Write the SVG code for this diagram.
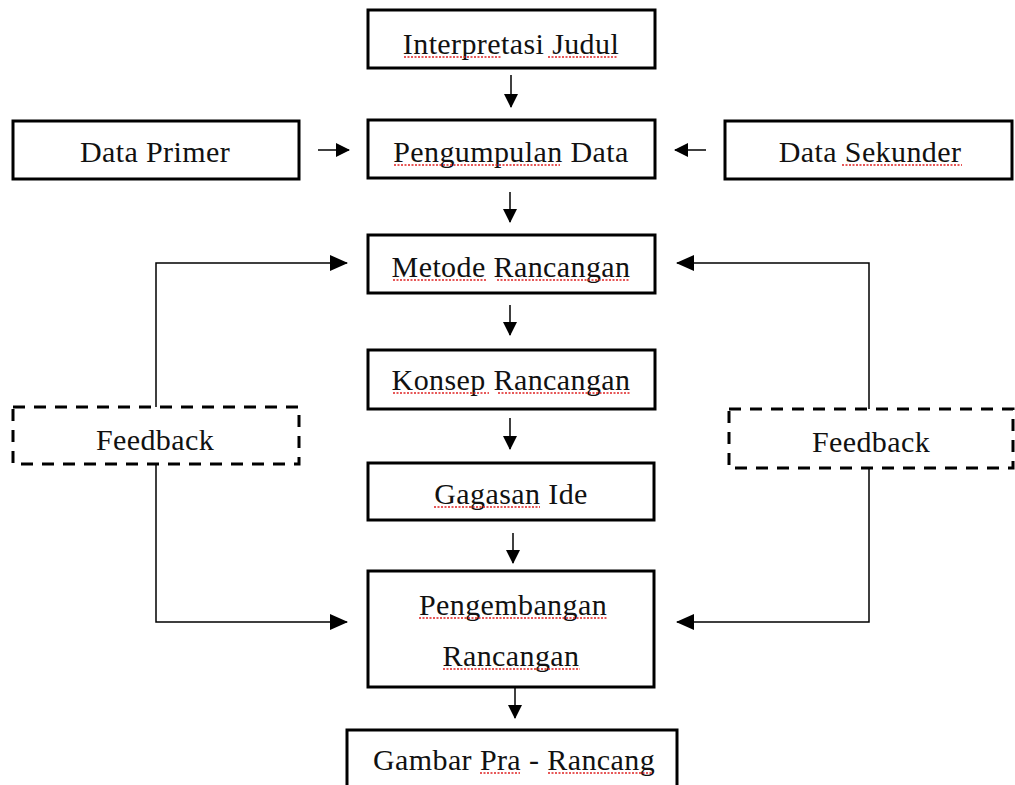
<svg xmlns="http://www.w3.org/2000/svg" width="1015" height="785" viewBox="0 0 1015 785">
<defs>
<style>
.box{fill:#fff;stroke:#000;stroke-width:3}
.dbox{fill:#fff;stroke:#000;stroke-width:3;stroke-dasharray:12 9}
.lbl{font-family:"Liberation Serif","Times New Roman",serif;font-size:30px;letter-spacing:0.4px;fill:#111;text-anchor:middle}
.con{fill:none;stroke:#000;stroke-width:1.5}
.sq{fill:none;stroke:#e02020;stroke-width:1.3;stroke-dasharray:2 1.5}
</style>
<marker id="ah" markerUnits="userSpaceOnUse" markerWidth="18" markerHeight="18" viewBox="0 0 18 18" refX="17" refY="9" orient="auto">
<path d="M0,1 L18,9 L0,17 Z" fill="#000"/>
</marker>
<marker id="as" markerUnits="userSpaceOnUse" markerWidth="14" markerHeight="16" viewBox="0 0 14 16" refX="13" refY="8" orient="auto">
<path d="M0,1 L14,8 L0,15 Z" fill="#000"/>
</marker>
</defs>
<rect width="1015" height="785" fill="#fff"/>

<g id="connectors">
<line class="con" x1="511" y1="75" x2="511" y2="107" marker-end="url(#as)"/>
<line class="con" x1="318" y1="150" x2="349" y2="150" marker-end="url(#as)"/>
<line class="con" x1="706" y1="150" x2="675" y2="150" marker-end="url(#as)"/>
<line class="con" x1="510" y1="192" x2="510" y2="222" marker-end="url(#as)"/>
<line class="con" x1="510" y1="305" x2="510" y2="335" marker-end="url(#as)"/>
<line class="con" x1="510" y1="418" x2="510" y2="449" marker-end="url(#as)"/>
<line class="con" x1="513" y1="533" x2="513" y2="563" marker-end="url(#as)"/>
<line class="con" x1="515" y1="688" x2="515" y2="718" marker-end="url(#as)"/>
<polyline class="con" points="156,407 156,263 347,263" marker-end="url(#ah)"/>
<polyline class="con" points="869,409 869,263 677,263" marker-end="url(#ah)"/>
<polyline class="con" points="156,465 156,622 347,622" marker-end="url(#ah)"/>
<polyline class="con" points="869,468 869,622 677,622" marker-end="url(#ah)"/>
</g>

<g id="interpretasi-judul">
<rect class="box" x="368" y="10" width="287" height="58"/>
<text class="lbl" x="511" y="54">Interpretasi Judul</text>
<path class="sq" d="M404,57 H502 M548,57 H618"/>
</g>
<g id="pengumpulan-data">
<rect class="box" x="368" y="120" width="287" height="58"/>
<text class="lbl" x="511" y="162">Pengumpulan Data</text>
<path class="sq" d="M394,165 H560"/>
</g>
<g id="data-primer">
<rect class="box" x="13" y="121" width="286" height="58"/>
<text class="lbl" x="155" y="162">Data Primer</text>
</g>
<g id="data-sekunder">
<rect class="box" x="725" y="121" width="287" height="58"/>
<text class="lbl" x="870" y="162">Data Sekunder</text>
<path class="sq" d="M842,165 H962"/>
</g>
<g id="metode-rancangan">
<rect class="box" x="368" y="235" width="287" height="58"/>
<text class="lbl" x="511" y="277">Metode Rancangan</text>
<path class="sq" d="M393,280 H486 M497,280 H630"/>
</g>
<g id="konsep-rancangan">
<rect class="box" x="368" y="350" width="287" height="59"/>
<text class="lbl" x="511" y="390">Konsep Rancangan</text>
<path class="sq" d="M393,393 H489 M498,393 H630"/>
</g>
<g id="feedback-left">
<rect class="dbox" x="13" y="407" width="286" height="57"/>
<text class="lbl" x="155" y="450">Feedback</text>
</g>
<g id="feedback-right">
<rect class="dbox" x="729" y="409" width="284" height="59"/>
<text class="lbl" x="871" y="452">Feedback</text>
</g>
<g id="gagasan-ide">
<rect class="box" x="368" y="463" width="286" height="57"/>
<text class="lbl" x="511" y="504">Gagasan Ide</text>
<path class="sq" d="M434,507 H540"/>
</g>
<g id="pengembangan-rancangan">
<rect class="box" x="368" y="571" width="286" height="116"/>
<text class="lbl" x="513" y="615">Pengembangan</text>
<text class="lbl" x="511" y="666">Rancangan</text>
<path class="sq" d="M419,618 H607 M443,669 H580"/>
</g>
<g id="gambar-pra-rancang">
<rect class="box" x="347" y="730" width="330" height="70"/>
<text class="lbl" x="514" y="770">Gambar Pra - Rancang</text>
<path class="sq" d="M480,773 H520 M548,773 H653"/>
</g>
</svg>
